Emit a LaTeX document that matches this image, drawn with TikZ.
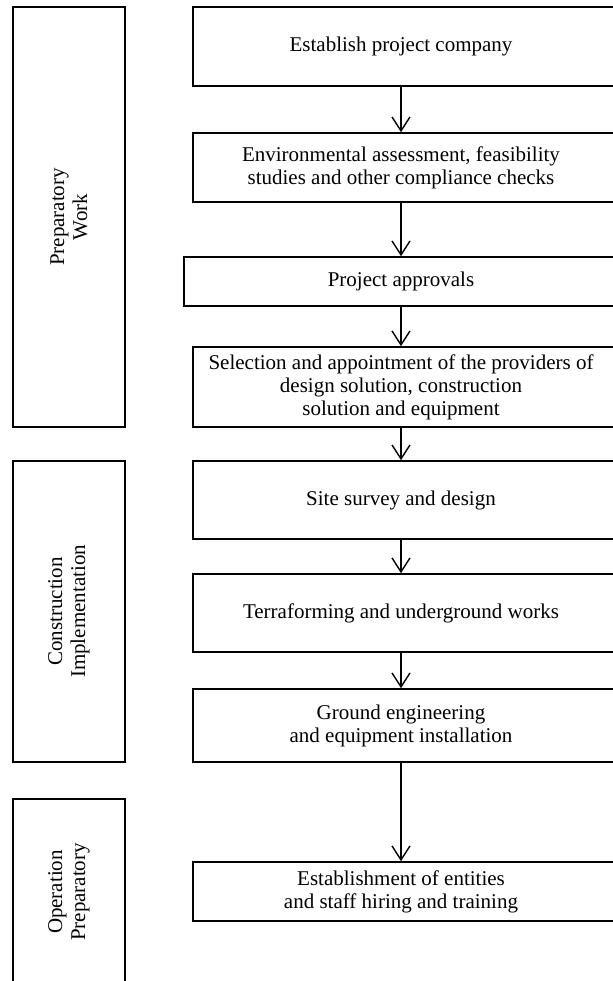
\documentclass[tikz,border=0pt]{standalone}
\usepackage{fontspec}
\setmainfont{Liberation Serif}
\usetikzlibrary{arrows.meta}

\begin{document}
\begin{tikzpicture}[x=0.5pt,y=-0.5pt,
        font=\fontsize{10.5}{11.5}\selectfont,
        phasebox/.style={draw,line width=0.8pt,minimum width=56pt,inner sep=0pt},
        stepbox/.style={draw,line width=0.8pt,minimum width=216.15pt,inner sep=0pt},
        steptext/.style={align=center,inner sep=0pt},
        flow/.style={line width=0.7pt,-{Straight Barb[length=7pt,width=9pt]}}]
    \useasboundingbox (0,0) rectangle (613,981);
    \clip (0,0) rectangle (613,981);
    % phases on the left
    \node[phasebox,minimum height=210pt] (ph1) at (69,217) {};
    \node[phasebox,minimum height=150.5pt] (ph2) at (69,611.5) {};
    \node[phasebox,minimum height=93pt] (ph3) at (69,892) {};
    \node[steptext,rotate=90] (lab1) at (ph1) {Preparatory\\Work};
    \node[steptext,rotate=90] (lab2) at (ph2) {Construction\\Implementation};
    \node[steptext,rotate=90] (lab3) at (ph3) {Operation\\Preparatory};
    % steps (right edge runs off the page)
    \node[stepbox,minimum height=39.5pt] (b1) at (408.85,46.5) {};
    \node[stepbox,minimum height=34.5pt] (b2) at (408.85,167.5) {};
    \node[stepbox,minimum width=220.5pt,minimum height=24.5pt] (b3) at (404.5,281.5) {};
    \node[stepbox,minimum height=40pt] (b4) at (408.85,387) {};
    \node[stepbox,minimum height=39pt] (b5) at (408.85,500) {};
    \node[stepbox,minimum height=39pt] (b6) at (408.85,613) {};
    \node[stepbox,minimum height=36.5pt] (b7) at (408.85,725.5) {};
    \node[stepbox,minimum height=29.5pt] (b8) at (408.85,891.5) {};
    \node[steptext] (t1) at (401,46.5) {Establish project company};
    \node[steptext] (t2) at (401,167.5) {Environmental assessment, feasibility\\studies and other compliance checks};
    \node[steptext] (t3) at (401,281.5) {Project approvals};
    \node[steptext] (t4) at (401,387) {Selection and appointment of the providers of\\design solution, construction\\solution and equipment};
    \node[steptext] (t5) at (401,500) {Site survey and design};
    \node[steptext] (t6) at (401,613) {Terraforming and underground works};
    \node[steptext] (t7) at (401,725.5) {Ground engineering\\and equipment installation};
    \node[steptext] (t8) at (401,891.5) {Establishment of entities\\and staff hiring and training};
    % arrows
    \foreach \a/\b in {1/2,2/3,3/4,4/5,5/6,6/7,7/8}
        \draw[flow] (t\a |- b\a.south) -- (t\a |- b\b.north);
\end{tikzpicture}
\end{document}
